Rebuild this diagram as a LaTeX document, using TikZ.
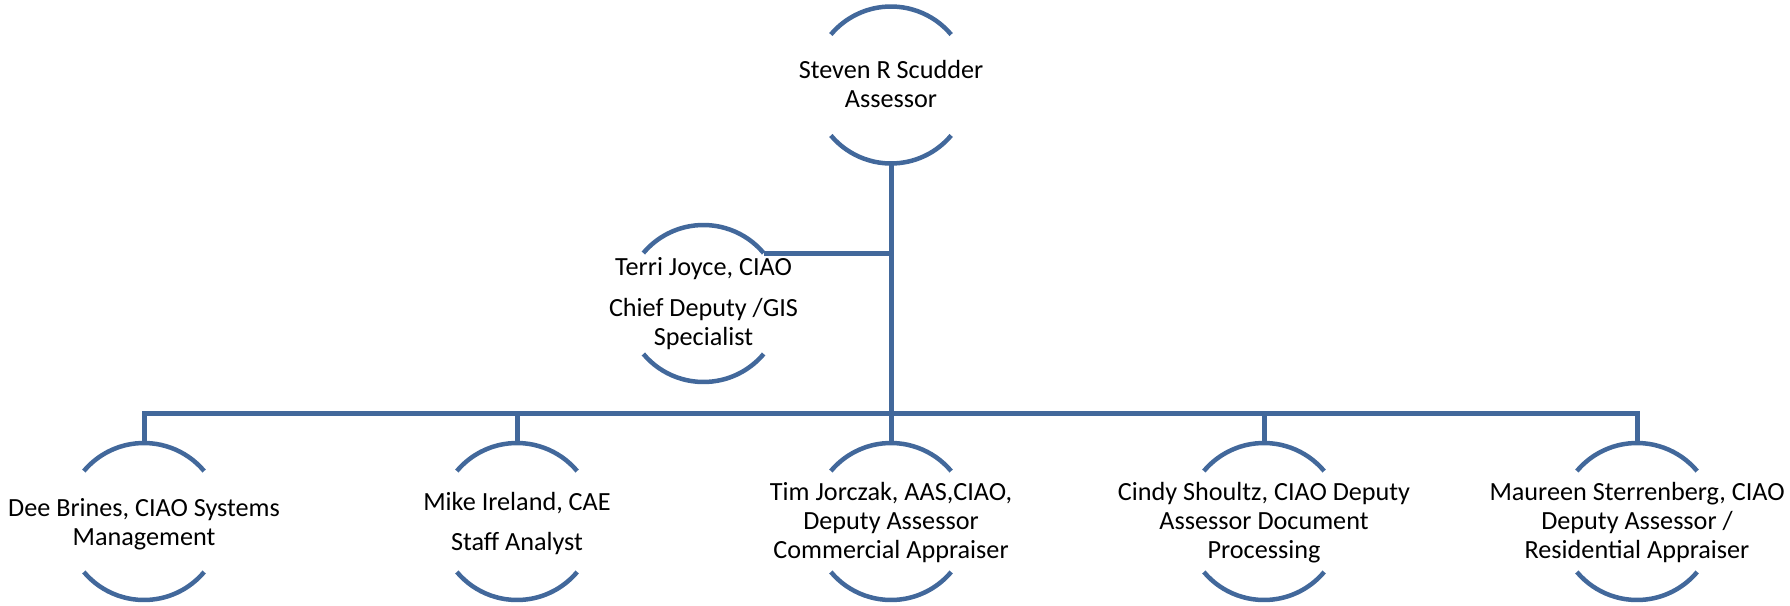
\documentclass[tikz,border=0pt]{standalone}
\usepackage{fontspec}
\setmainfont{Carlito}
\definecolor{orgblue}{RGB}{66,104,155}
\begin{document}
\begin{tikzpicture}[x=1pt,y=1pt,
  ring/.style={circle,minimum size=157pt,inner sep=0pt,outer sep=0pt},
  lbl/.style={align=center,anchor=base,font=\fontsize{26.2}{29}\selectfont,inner sep=0pt},
  arcline/.style={draw=orgblue,line width=4.5pt},
  conn/.style={draw=orgblue,line width=5pt}]
\useasboundingbox (0,0) rectangle (1790,-605);
% ring nodes
\node[ring] (top) at (891,-85) {};
\node[ring] (terri) at (703.5,-303.5) {};
\node[ring] (dee) at (144,-521.5) {};
\node[ring] (mike) at (517,-521.5) {};
\node[ring] (tim) at (891,-521.5) {};
\node[ring] (cindy) at (1264,-521.5) {};
\node[ring] (maureen) at (1637,-521.5) {};
\coordinate (bus) at (891,-413);
% connectors
\draw[conn] (top.south) -- (tim.north);
\draw[conn] (terri.40) -- (terri.40 -| top.south);
\draw[conn] (dee.north) |- (bus) -| (maureen.north);
\draw[conn] (mike.north) -- (mike.north |- bus);
\draw[conn] (cindy.north) -- (cindy.north |- bus);
% arcs
\foreach \n in {top,terri,dee,mike,tim,cindy,maureen}{
  \draw[arcline] (\n.40) arc[start angle=40,end angle=140,radius=78.5pt];
  \draw[arcline] (\n.220) arc[start angle=220,end angle=320,radius=78.5pt];
}
% labels (base anchor = baseline of last line)
\node[lbl] (topT) at (891,-107) {Steven R Scudder\\Assessor};
\node[lbl] (terriT) at (703.5,-345) {Terri Joyce, CIAO\\[12pt]Chief Deputy /GIS\\Specialist};
\node[lbl] (deeT) at (144,-545) {Dee Brines, CIAO Systems\\Management};
\node[lbl] (mikeT) at (517,-550) {Mike Ireland, CAE\\[11pt]Staff Analyst};
\node[lbl] (timT) at (891,-558) {Tim Jorczak, AAS,CIAO,\\Deputy Assessor\\Commercial Appraiser};
\node[lbl] (cindyT) at (1264,-558) {Cindy Shoultz, CIAO Deputy\\Assessor Document\\Processing};
\node[lbl] (maureenT) at (1637,-558) {Maureen Sterrenberg, CIAO\\Deputy Assessor /\\Residential Appraiser};
\end{tikzpicture}
\end{document}
